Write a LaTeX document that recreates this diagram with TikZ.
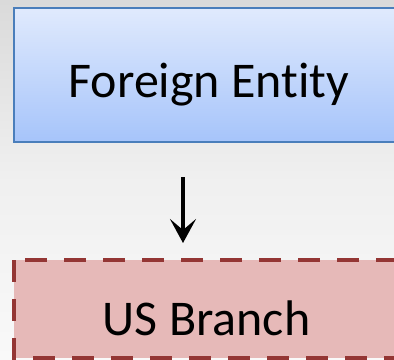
\documentclass[tikz,border=0pt]{standalone}
\usepackage{fontspec}
\setmainfont{Carlito}[Ligatures={NoCommon}]
\usetikzlibrary{arrows.meta}
\definecolor{bgtop}{HTML}{DADADA}
\definecolor{bgbot}{HTML}{F9F9F9}
\definecolor{entTop}{HTML}{E0EAFD}
\definecolor{entBot}{HTML}{A6C4FA}
\definecolor{entLine}{HTML}{4A7EBB}
\definecolor{brFill}{HTML}{E6B9B8}
\definecolor{brLine}{HTML}{943634}
\tikzset{
  entitybox/.style={draw=entLine, line width=2.5bp, top color=entTop, bottom color=entBot},
  branchbox/.style={draw=brLine, fill=brFill, line width=3.5bp, dash pattern=on 22bp off 17bp},
  label/.style={inner sep=0pt, font=\fontsize{50bp}{60bp}\selectfont, text=black},
  flow/.style={line width=4.5bp, -{Stealth[length=24bp, width=26bp, inset=11bp]}}
}
\begin{document}
\begin{tikzpicture}[x=1bp, y=-1bp]
  % page and background
  \useasboundingbox (0,0) rectangle (394,360);
  \shade[top color=bgtop, bottom color=bgbot, middle color=bgbot!70!bgtop] (0,0) rectangle (394,360);
  % boxes (their right sides run past the page edge)
  \path[entitybox] (14,8) rectangle (420,142);
  \path[branchbox] (14,260) rectangle (420,358);
  % labels
  \node[label, anchor=base] (ent) at (209,97) {Foreign Entity};
  \node[label, anchor=base] (br) at (206.5,335) {US Branch};
  % connector
  \coordinate (a) at (183,177);
  \coordinate (b) at (183,243);
  \draw[flow] (a) -- (b);
\end{tikzpicture}
\end{document}
